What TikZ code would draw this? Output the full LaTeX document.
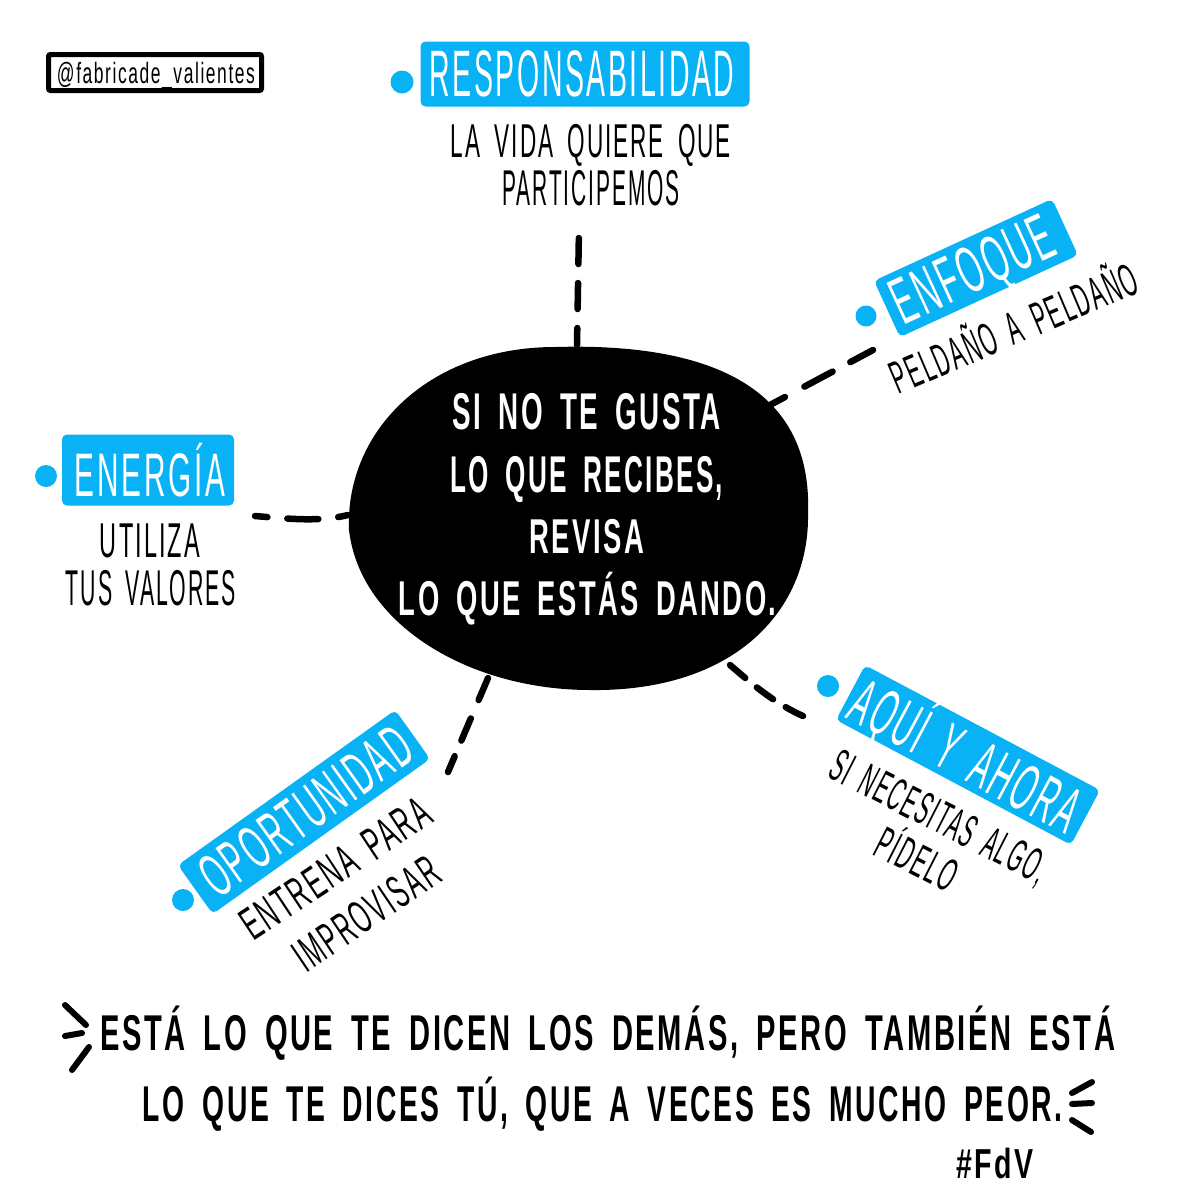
\documentclass[tikz,border=0pt]{standalone}
\usepackage{fontspec}
\usepackage{graphicx}
\setmainfont{Liberation Sans}[LetterSpace=9,WordSpace=1.7]
\definecolor{sky}{RGB}{8,178,245}
\newcommand\fitpx[3]{\resizebox{#1pt}{#2pt}{\raisebox{0pt}[7.16pt][0pt]{\fontsize{10}{10}\selectfont #3}}}
\tikzset{
  tagbox/.style={fill=sky,rounded corners=5pt,inner sep=0pt,text=white,anchor=center},
  tagdot/.style={circle,fill=sky,inner sep=0pt,minimum size=23pt},
  plain/.style={inner sep=0pt,text=black},
  hero/.style={inner sep=0pt,text=white},
  conn/.style={draw=black,line width=6.5pt,line cap=round},
  squig/.style={draw=black,line width=6pt,line cap=round},
}
\begin{document}
\begin{tikzpicture}[x=1pt,y=-1pt]
\useasboundingbox (0,0) rectangle (1200,1200);
\fill[white] (0,0) rectangle (1200,1200);

% handle
\node[draw=black,line width=5pt,rounded corners=2pt,minimum width=213pt,minimum height=36pt,inner sep=0pt] (handlebox) at (155,72.5) {};
\node[plain] (handle) at (156,72.5) {\fitpx{198}{21}{@fabricade\_valientes}};

% central blob
\fill[black] (349,530) .. controls (345,430) and (430,347) .. (555,347)
  .. controls (730,342) and (812,400) .. (808,513)
  .. controls (810,610) and (735,692) .. (590,690)
  .. controls (470,690) and (360,625) .. (349,530) -- cycle;
\node[hero] (c1) at (588,411) {\fitpx{271}{37}{\textbf{SI NO TE GUSTA}}};
\node[hero] (c2) at (588,474) {\fitpx{275}{37}{\textbf{LO QUE RECIBES,}}};
\node[hero] (c3) at (588,536) {\fitpx{117}{35}{\textbf{REVISA}}};
\node[hero] (c4) at (589,598) {\fitpx{380}{35}{\textbf{LO QUE ESTÁS DANDO.}}};
\coordinate (bT) at (577,345);
\coordinate (bR) at (770,405);
\coordinate (bL) at (348,515);
\coordinate (bBL) at (488,678);
\coordinate (bBR) at (730,665);

% RESPONSABILIDAD
\node[tagbox,minimum width=329pt,minimum height=65pt] (resp) at (585,74) {};
\node[hero] (resptext) at (582,73) {\fitpx{305}{47}{RESPONSABILIDAD}};
\node[tagdot] (respdot) at (402,82) {};
\node[plain] (r1) at (591,140) {\fitpx{280}{34}{LA VIDA QUIERE QUE}};
\node[plain] (r2) at (591,187) {\fitpx{177}{36}{PARTICIPEMOS}};
\coordinate (respend) at (579,228);
\draw[conn,dash pattern=on 17pt off 19pt on 26pt off 19pt on 26pt] (bT) -- (respend);

% ENFOQUE
\node[tagbox,rotate=24.7,minimum width=196pt,minimum height=62pt] (enf) at (976,268) {};
\node[hero,rotate=24.7] (enftext) at (972,268) {\fitpx{172}{47}{ENFOQUE}};
\node[tagdot,minimum size=21pt] (enfdot) at (866,316) {};
\node[plain,rotate=23] (enfsub) at (1014,328) {\fitpx{264}{33}{PELDAÑO A PELDAÑO}};
\coordinate (enfend) at (873,350);
\draw[conn,dash pattern=on 17pt off 22pt on 32pt off 20pt on 26pt] (bR) -- (enfend);

% ENERGIA
\node[tagbox,minimum width=172pt,minimum height=71pt] (ene) at (148,470) {};
\node[hero] (enetext) at (150,474) {\fitpx{150}{44}{ENERGÍA}};
\node[tagdot,minimum size=22pt] (enedot) at (46,476) {};
\node[plain] (e1) at (150,540) {\fitpx{100}{35}{UTILIZA}};
\node[plain] (e2) at (151,587) {\fitpx{170}{36}{TUS VALORES}};
\coordinate (eneend) at (255,516);
\draw[conn,dash pattern=on 10pt off 20pt on 31pt off 20pt on 25pt] (bL) .. controls (320,522) and (290,519) .. (eneend);

% OPORTUNIDAD
\node[tagbox,rotate=35.5,minimum width=267pt,minimum height=60pt] (opo) at (304,812) {};
\node[hero,rotate=35.5] (opotext) at (305,810) {\fitpx{245}{44}{OPORTUNIDAD}};
\node[tagdot,minimum size=22pt] (opodot) at (183,900) {};
\node[plain,rotate=33.5] (o1) at (335,868) {\fitpx{218}{33}{ENTRENA PARA}};
\node[plain,rotate=34] (o2) at (366,913) {\fitpx{166}{33}{IMPROVISAR}};
\coordinate (opoend) at (448,772);
\draw[conn,dash pattern=on 24pt off 20pt on 24pt off 17pt on 20pt] (bBL) -- (opoend);

% AQUI Y AHORA
\node[tagbox,rotate=-28,minimum width=266pt,minimum height=62pt] (aqui) at (968,755) {};
\node[hero,rotate=-28] (aquitext) at (966,755) {\fitpx{250}{47}{AQUÍ Y AHORA}};
\node[tagdot,minimum size=22pt] (aquidot) at (828,686) {};
\node[plain,rotate=-27] (a1) at (940,816) {\fitpx{238}{33}{SI NECESITAS ALGO,}};
\node[plain,rotate=-27] (a2) at (917,859) {\fitpx{85}{33}{PÍDELO}};
\coordinate (aquiend) at (803,716);
\draw[conn,dash pattern=on 20pt off 15pt on 20pt off 15pt on 24pt] (bBR) .. controls (750,682) and (772,702) .. (aquiend);

% bottom text
\node[plain] (b1) at (609,1032) {\fitpx{1018}{36}{\textbf{ESTÁ LO QUE TE DICEN LOS DEMÁS, PERO TAMBIÉN ESTÁ}}};
\node[plain] (b2) at (604,1103) {\fitpx{922}{36}{\textbf{LO QUE TE DICES TÚ, QUE A VECES ES MUCHO PEOR.}}};
\node[plain] (fav) at (996,1163) {\fitpx{80}{30}{\textbf{\#FdV}}};

\coordinate (l1a) at (65,1005); \coordinate (l1b) at (86,1025);
\coordinate (l2a) at (65,1036); \coordinate (l2b) at (82,1033);
\coordinate (l3a) at (89,1047); \coordinate (l3b) at (72,1070);
\coordinate (r1a) at (1092,1082); \coordinate (r1b) at (1072,1093);
\coordinate (r2a) at (1072,1104); \coordinate (r2b) at (1092,1103);
\coordinate (r3a) at (1072,1120); \coordinate (r3b) at (1091,1132);
\draw[squig] (l1a) -- (l1b) (l2a) -- (l2b) (l3a) -- (l3b) (r1a) -- (r1b) (r2a) -- (r2b) (r3a) -- (r3b);
\end{tikzpicture}
\end{document}
